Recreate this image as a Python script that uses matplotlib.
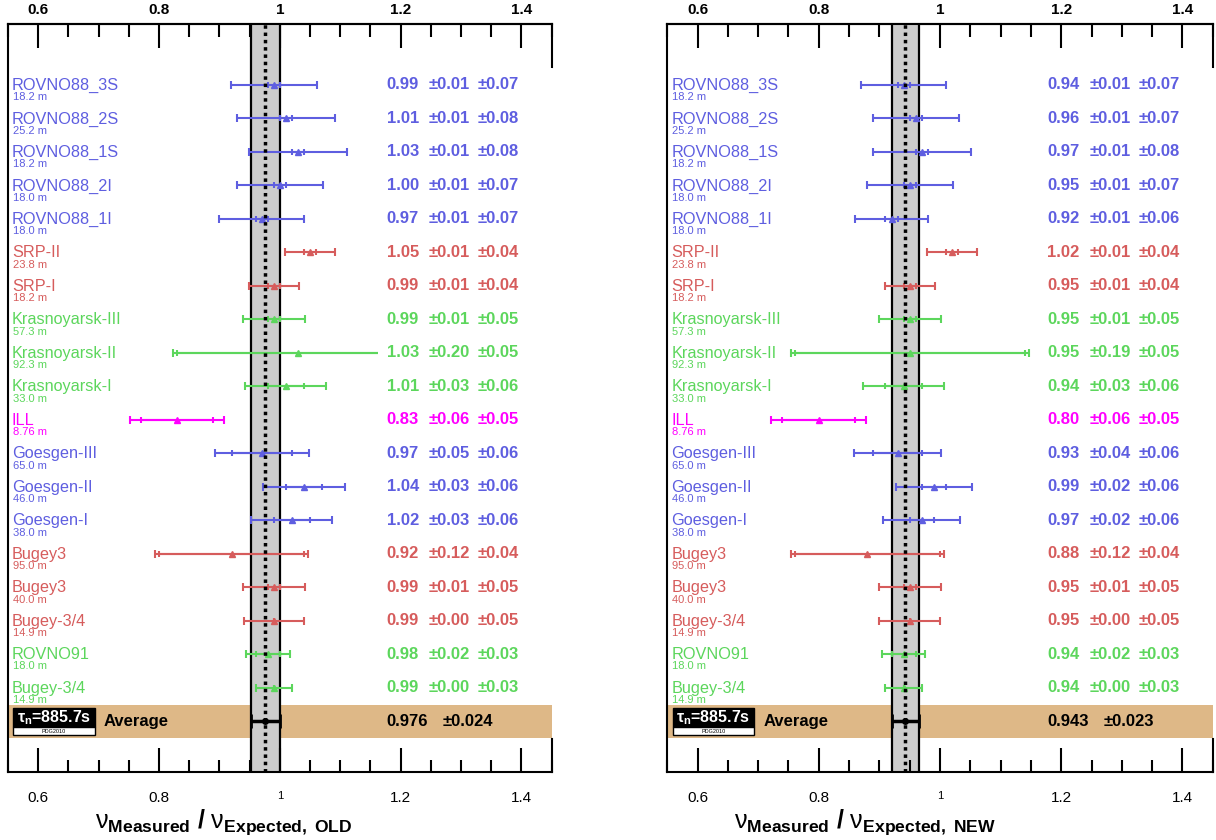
import matplotlib.pyplot as plt
from matplotlib.patches import Rectangle
from matplotlib.ticker import MultipleLocator

plt.rcParams['font.family'] = ['Liberation Sans', 'DejaVu Sans']
plt.rcParams['mathtext.fontset'] = 'custom'
plt.rcParams['mathtext.rm'] = 'Liberation Sans'
plt.rcParams['mathtext.bf'] = 'Liberation Sans:bold'
plt.rcParams['mathtext.it'] = 'Liberation Sans:italic'
plt.rcParams['mathtext.default'] = 'regular'

# ---- data ----
names = ['ROVNO88_3S', 'ROVNO88_2S', 'ROVNO88_1S', 'ROVNO88_2I', 'ROVNO88_1I',
         'SRP-II', 'SRP-I', 'Krasnoyarsk-III', 'Krasnoyarsk-II', 'Krasnoyarsk-I',
         'ILL', 'Goesgen-III', 'Goesgen-II', 'Goesgen-I', 'Bugey3', 'Bugey3',
         'Bugey-3/4', 'ROVNO91', 'Bugey-3/4']
dists = ['18.2 m', '25.2 m', '18.2 m', '18.0 m', '18.0 m', '23.8 m', '18.2 m',
         '57.3 m', '92.3 m', '33.0 m', '8.76 m', '65.0 m', '46.0 m', '38.0 m',
         '95.0 m', '40.0 m', '14.9 m', '18.0 m', '14.9 m']
col_key = ['b', 'b', 'b', 'b', 'b', 'r', 'r', 'g', 'g', 'g', 'm',
           'b', 'b', 'b', 'r', 'r', 'r', 'g', 'g']

old_val = [0.99, 1.01, 1.03, 1.00, 0.97, 1.05, 0.99, 0.99, 1.03, 1.01,
           0.83, 0.97, 1.04, 1.02, 0.92, 0.99, 0.99, 0.98, 0.99]
old_stat = [0.01, 0.01, 0.01, 0.01, 0.01, 0.01, 0.01, 0.01, 0.20, 0.03,
            0.06, 0.05, 0.03, 0.03, 0.12, 0.01, 0.00, 0.02, 0.00]
old_syst = [0.07, 0.08, 0.08, 0.07, 0.07, 0.04, 0.04, 0.05, 0.05, 0.06,
            0.05, 0.06, 0.06, 0.06, 0.04, 0.05, 0.05, 0.03, 0.03]

new_val = [0.94, 0.96, 0.97, 0.95, 0.92, 1.02, 0.95, 0.95, 0.95, 0.94,
           0.80, 0.93, 0.99, 0.97, 0.88, 0.95, 0.95, 0.94, 0.94]
new_stat = [0.01, 0.01, 0.01, 0.01, 0.01, 0.01, 0.01, 0.01, 0.19, 0.03,
            0.06, 0.04, 0.02, 0.02, 0.12, 0.01, 0.00, 0.02, 0.00]
new_syst = [0.07, 0.07, 0.08, 0.07, 0.06, 0.04, 0.04, 0.05, 0.05, 0.06,
            0.05, 0.06, 0.06, 0.06, 0.04, 0.05, 0.05, 0.03, 0.03]

avg_old, avg_old_err = 0.976, 0.024
avg_new, avg_new_err = 0.943, 0.023
tau_n = '885.7s'

palette = {'b': '#5e5ee0', 'r': '#d65c5c', 'g': '#5cd65c', 'm': '#ff00ff'}


def draw_panel(ax, val, stat, syst, avg, avg_err, tag, lab_x):
    n = len(val)
    ax.set_xlim(0.55, 1.45)
    ax.set_ylim(20.51, -1.82)
    ax.set_yticks([])

    # tan average row and grey band
    ax.axhspan(n - 0.5, n + 0.5, color='#deb887', lw=0, zorder=0.5)
    ax.axvspan(avg - avg_err, avg + avg_err, color='#cccccc', lw=0, zorder=1)
    ax.axvline(avg - avg_err, color='k', lw=1.6, zorder=1.5)
    ax.axvline(avg + avg_err, color='k', lw=1.6, zorder=1.5)
    ax.axvline(avg, color='k', lw=2.5, ls=(0, (1, 1.1)), zorder=6)

    # white box behind the numbers column
    ax.add_patch(Rectangle((1.162, -0.5), 0.29, n, facecolor='white',
                           edgecolor='none', zorder=3.5))

    for i in range(n):
        c = palette[col_key[i]]
        tot = (stat[i] ** 2 + syst[i] ** 2) ** 0.5
        ax.errorbar(val[i], i, xerr=tot, fmt='none', ecolor=c, elinewidth=1.5,
                    capsize=3, capthick=1.5, zorder=3)
        ax.errorbar(val[i], i, xerr=stat[i], fmt='^', color=c, ms=5,
                    elinewidth=1.5, capsize=2.2, capthick=1.5, zorder=3.2)
        ax.text(0.5566, i + 0.15, names[i], color=c, fontsize=11.7, va='baseline')
        ax.text(0.5575, i + 0.45, dists[i], color=c, fontsize=8, va='baseline')
        ax.text(1.177, i, '%.2f' % val[i], color=c, fontsize=12,
                fontweight='bold', va='center', zorder=5)
        ax.text(1.246, i, '±%.2f' % stat[i], color=c, fontsize=12,
                fontweight='bold', va='center', zorder=5)
        ax.text(1.328, i, '±%.2f' % syst[i], color=c, fontsize=12,
                fontweight='bold', va='center', zorder=5)

    # average row
    ax.errorbar(avg, n, xerr=avg_err, fmt='o', color='k', ms=4, elinewidth=2.5,
                capsize=5, capthick=2, zorder=7)
    ax.text(0.709, n, 'Average', fontsize=12, fontweight='bold', va='center')
    ax.text(1.177, n, '%.3f' % avg, fontsize=12, fontweight='bold', va='center')
    ax.text(1.27, n, '±%.3f' % avg_err, fontsize=12, fontweight='bold',
            va='center')
    ax.add_patch(Rectangle((0.5588, n - 0.39), 0.135, 0.56, facecolor='black',
                           edgecolor='black', lw=1, zorder=4))
    ax.add_patch(Rectangle((0.5588, n + 0.17), 0.135, 0.23, facecolor='white',
                           edgecolor='black', lw=1, zorder=4))
    ax.text(0.626, n - 0.12, r'$\tau_{n}$=' + tau_n, color='white', fontsize=11.5,
            fontweight='bold', ha='center', va='center', zorder=5)
    ax.text(0.626, n + 0.29, 'PDG2010', fontsize=4, ha='center', va='center',
            zorder=5)

    # axes frame and ticks
    major = [0.6, 0.8, 1.0, 1.2, 1.4]
    major_lab = ['0.6', '0.8', '1', '1.2', '1.4']
    ax.spines['right'].set_visible(False)
    for s in ['left', 'top', 'bottom']:
        ax.spines[s].set_linewidth(1.5)
    ax.set_xticks(major, major_lab)
    ax.xaxis.set_minor_locator(MultipleLocator(0.05))
    ax.tick_params(axis='x', which='major', direction='in', length=17, width=1.5,
                   top=False, labelsize=11, pad=14)
    ax.tick_params(axis='x', which='minor', direction='in', length=9, width=1.5,
                   top=False)
    ax.get_xticklabels()[2].set_fontsize(8)

    sec = ax.secondary_xaxis('top')
    sec.set_xticks(major, major_lab)
    sec.xaxis.set_minor_locator(MultipleLocator(0.05))
    sec.tick_params(axis='x', which='major', direction='in', length=17,
                    width=1.5, labelsize=11, pad=5)
    sec.tick_params(axis='x', which='minor', direction='in', length=9, width=1.5)
    sec.spines['top'].set_linewidth(1.5)
    for t in sec.get_xticklabels():
        t.set_fontweight('bold')

    # short right-hand frame pieces around the tick areas
    ax.plot([1, 1], [0.943, 1], transform=ax.transAxes, color='k', lw=1.5,
            clip_on=False)
    ax.plot([1, 1], [0, 0.044], transform=ax.transAxes, color='k', lw=1.5,
            clip_on=False)

    ax.text(lab_x, -0.075,
            r'$ν_{\mathbf{Measured}}\ \mathbf{/}\ ν_{\mathbf{Expected,\ ' + tag + '}}$',
            transform=ax.transAxes, fontsize=18, ha='left', va='baseline')


fig = plt.figure(figsize=(12.16, 8.4), dpi=100)
ax_old = fig.add_axes([8 / 1216, 1 - 772 / 840, 543.7 / 1216, 748 / 840])
ax_new = fig.add_axes([667.2 / 1216, 1 - 772 / 840, 545.6 / 1216, 748 / 840])

draw_panel(ax_old, old_val, old_stat, old_syst, avg_old, avg_old_err, 'OLD', 0.16)
draw_panel(ax_new, new_val, new_stat, new_syst, avg_new, avg_new_err, 'NEW', 0.122)

fig.savefig('out.png', dpi=100)
